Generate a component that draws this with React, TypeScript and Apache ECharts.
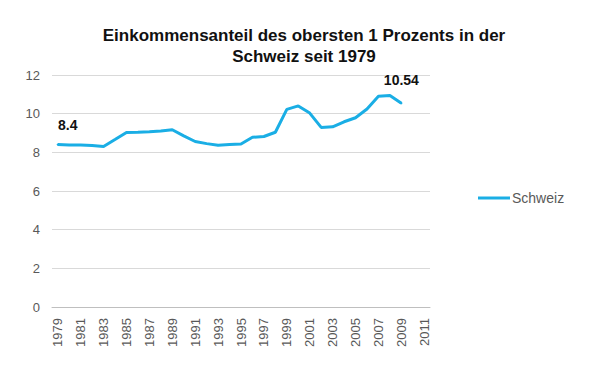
import React, { useEffect, useRef } from "react";
import * as echarts from "echarts";

const years = [
  "1979","1980","1981","1982","1983","1984","1985","1986","1987","1988","1989",
  "1990","1991","1992","1993","1994","1995","1996","1997","1998","1999","2000",
  "2001","2002","2003","2004","2005","2006","2007","2008","2009","2010","2011",
];
const schweiz = [
  8.4, 8.38, 8.38, 8.35, 8.3, 8.66, 9.03, 9.04, 9.06, 9.1, 9.17,
  8.85, 8.56, 8.45, 8.37, 8.4, 8.43, 8.78, 8.82, 9.04, 10.22, 10.4,
  10.03, 9.29, 9.32, 9.58, 9.79, 10.24, 10.9, 10.94, 10.54,
];
const labeledIndex = [0, 30];
const titleText = "Einkommensanteil des obersten 1 Prozents in der\nSchweiz seit 1979";

export default function App() {
  const ref = useRef<HTMLDivElement>(null);
  useEffect(() => {
    document.body.style.margin = "0";
    if (!ref.current) return;
    const chart = echarts.init(ref.current, null, { renderer: "svg" });
    const data = schweiz.map((v, i) =>
      labeledIndex.includes(i)
        ? {
            value: v,
            symbol: "circle",
            symbolSize: 2,
            label: {
              show: true,
              position: "top",
              distance: i === 0 ? 12 : 15,
              offset: i === 0 ? [10, 0] : [0, 0],
              formatter: String(v),
              color: "#111",
              fontWeight: "bold",
              fontSize: 14,
              fontFamily: "Liberation Sans, Arial, sans-serif",
            },
          }
        : { value: v, symbol: "none" }
    );
    chart.setOption({
      animation: false,
      backgroundColor: "#fff",
      textStyle: { fontFamily: "Liberation Sans, Arial, sans-serif" },
      title: {
        text: titleText,
        left: 299,
        top: 20,
        textAlign: "center",
        textStyle: {
          fontSize: 17,
          fontWeight: "bold",
          color: "#111",
          lineHeight: 21,
          fontFamily: "Liberation Sans, Arial, sans-serif",
        },
      },
      legend: {
        show: true,
        left: 473,
        top: 186,
        orient: "vertical",
        itemWidth: 32,
        itemHeight: 3,
        itemGap: 4,
        textStyle: { color: "#595959", fontSize: 14, padding: [0, 0, 0, -3] },
        data: [{ name: "Schweiz", icon: "rect", itemStyle: { color: "#1aaee5" } }],
      },
      grid: { left: 52, right: 160, top: 75, bottom: 59, containLabel: false },
      xAxis: {
        type: "category",
        data: years,
        boundaryGap: true,
        axisLine: { show: true, lineStyle: { color: "#bfbfbf", width: 1 } },
        axisTick: { show: false },
        axisLabel: {
          interval: 1,
          rotate: 90,
          color: "#595959",
          fontSize: 13,
          margin: 11,
        },
      },
      yAxis: {
        type: "value",
        min: 0,
        max: 12,
        interval: 2,
        axisLine: { show: false },
        axisTick: { show: false },
        axisLabel: { color: "#595959", fontSize: 13, margin: 12 },
        splitLine: { show: true, lineStyle: { color: "#d9d9d9", width: 1 } },
      },
      series: [
        {
          name: "Schweiz",
          type: "line",
          data,
          showSymbol: true,
          symbol: "none",
          color: "#1aaee5",
          itemStyle: { color: "#1aaee5" },
          lineStyle: { color: "#1aaee5", width: 3 },
        },
      ],
    });
    return () => chart.dispose();
  }, []);
  return <div ref={ref} style={{ width: 590, height: 366 }} />;
}
